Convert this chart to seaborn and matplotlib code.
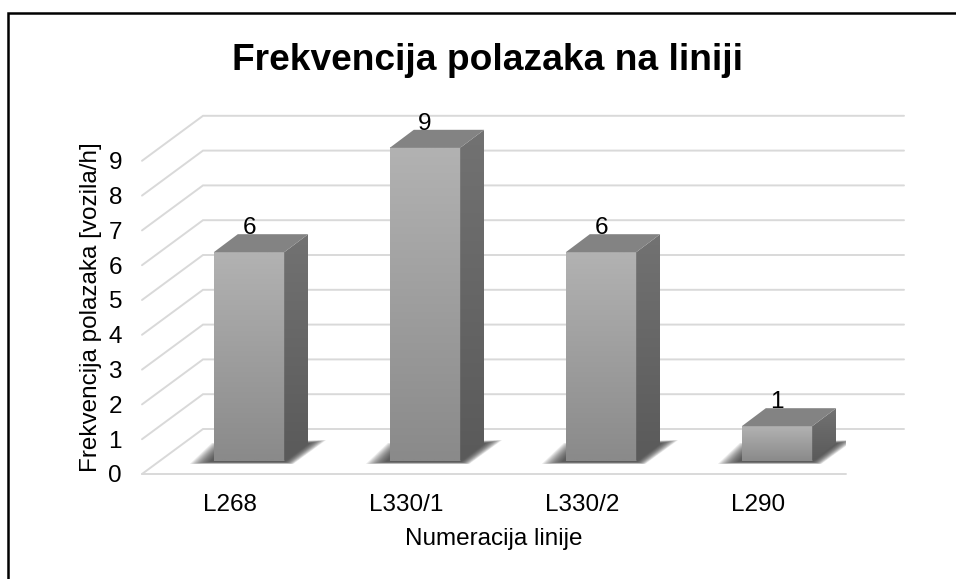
import matplotlib
matplotlib.use("Agg")
import matplotlib.pyplot as plt
from matplotlib.patches import Polygon, Rectangle
import seaborn as sns
import numpy as np
import pandas as pd

# podaci sa grafikona
linije = ["L268", "L330/1", "L330/2", "L290"]
frekvencija = [6, 9, 6, 1]
y_ticks = [0, 1, 2, 3, 4, 5, 6, 7, 8, 9]

W, H = 956, 579
LEFT, RIGHT, BOTTOM, TOP = 142, 846, 474, 126
PX_X = (RIGHT - LEFT) / 4
PX_Y = (BOTTOM - TOP) / 10
FS = 17.5

sns.set_theme(style="white")
plt.rcParams["font.family"] = ["Liberation Sans", "DejaVu Sans"]

fig = plt.figure(figsize=(W / 100, H / 100), dpi=100)
ax = fig.add_axes([LEFT / W, 1 - BOTTOM / H, (RIGHT - LEFT) / W, (BOTTOM - TOP) / H])

df = pd.DataFrame({"linija": linije, "frekvencija": frekvencija})
sns.barplot(data=df, x="linija", y="frekvencija", width=0.4, color="#a0a0a0", saturation=1, linewidth=0, ax=ax, zorder=5)


def dx(px):
    return px / PX_X


def dy(px):
    return px / PX_Y


def gradient(top_col, bottom_col, extent, clip=None, zorder=6):
    c0 = np.array(matplotlib.colors.to_rgb(top_col))
    c1 = np.array(matplotlib.colors.to_rgb(bottom_col))
    t = np.linspace(0, 1, 64)[:, None, None]
    img = c0[None, None, :] * (1 - t) + c1[None, None, :] * t
    im = ax.imshow(img, extent=extent, aspect="auto", origin="upper", zorder=zorder, interpolation="bilinear")
    if clip is not None:
        im.set_clip_path(clip)
    return im


# pomak stubica od prednje ivice poda
off_x, off_y = dx(19), dy(13)
dep_x, dep_y = dx(24), dy(18)

for p, v in zip(ax.patches, frekvencija):
    p.set_x(p.get_x() + off_x)
    p.set_y(off_y)
    x0, w = p.get_x(), p.get_width()
    x1 = x0 + w
    y0, y1 = off_y, off_y + v

    # senka na podu, mekana ivica preko vise slojeva
    for k in np.linspace(1, 0, 16):
        shadow = Polygon(
            [
                (x0 - dx(4) - dx(20) * k, y0 - dy(1) - dy(2) * k),
                (x1 + dx(1) + dx(8) * k, y0 - dy(1) - dy(2) * k),
                (x1 + dep_x + dx(2) + dx(16) * k, y0 + dep_y + dy(3) * k),
                (x0 + dx(8) - dx(10) * k, y0 + dep_y - dy(6) + dy(6) * k),
            ],
            closed=True,
            facecolor="#303030",
            edgecolor="none",
            alpha=0.085,
            zorder=3,
        )
        ax.add_patch(shadow)

    # prednja strana
    gradient("#b2b2b2", "#8a8a8a", (x0, x1, y0, y1))

    # bocna strana
    side = Polygon(
        [(x1, y0), (x1 + dep_x, y0 + dep_y), (x1 + dep_x, y1 + dep_y), (x1, y1)],
        closed=True,
        facecolor="none",
        edgecolor="none",
        zorder=4,
    )
    ax.add_patch(side)
    gradient("#727272", "#5a5a5a", (x1, x1 + dep_x, y0, y1 + dep_y), clip=side)

    # gornja strana
    ax.add_patch(
        Polygon(
            [(x0, y1), (x1, y1), (x1 + dep_x, y1 + dep_y), (x0 + dep_x, y1 + dep_y)],
            closed=True,
            facecolor="#838383",
            edgecolor="none",
            zorder=6,
        )
    )

# mreza: prednja ivica, kosa linija na zidu i zadnja linija
back_x, back_y = dx(61), dy(45)
x_min, x_max = -0.5, 3.5
for t in y_ticks:
    ax.plot(
        [x_min, x_min + back_x, x_max + dx(58)],
        [t, t + back_y, t + back_y],
        color="#d9d9d9",
        lw=1.4,
        clip_on=False,
        solid_joinstyle="miter",
        zorder=1,
    )
ax.plot([x_min, x_max], [0, 0], color="#d9d9d9", lw=1.4, clip_on=False, zorder=1)

# oznake vrijednosti
for i, v in enumerate(frekvencija):
    ax.annotate(
        str(v),
        xy=(i, v),
        xytext=(19 / 100 * 72, 37 / 100 * 72),
        textcoords="offset points",
        ha="center",
        va="center",
        fontsize=FS,
        color="black",
        zorder=8,
    )

ax.set_xlim(x_min, x_max)
ax.set_ylim(0, 10)
ax.set_yticks(y_ticks)
ax.tick_params(axis="both", length=0, pad=14.4, labelsize=FS, colors="black")
sns.despine(ax=ax, left=True, bottom=True)
ax.patch.set_alpha(0)

ax.set_xlabel("Numeracija linije", fontsize=FS, color="black")
ax.xaxis.set_label_coords(494 / W, 1 - 528 / H, transform=fig.transFigure)
ax.set_ylabel("Frekvencija polazaka [vozila/h]", fontsize=FS, color="black")
ax.yaxis.set_label_coords(102 / W, 1 - 307 / H, transform=fig.transFigure)

fig.text(487 / W, 1 - 60 / H, "Frekvencija polazaka na liniji", fontsize=26.7, fontweight="bold",
         ha="center", va="center", color="black")

# okvir grafikona
fig.add_artist(Rectangle((7.5 / W, -0.01), 1.01 - 7.5 / W, 1.01 - 13 / H, transform=fig.transFigure,
                         fill=False, edgecolor="black", lw=1.8))

fig.savefig("out.png", dpi=100)
